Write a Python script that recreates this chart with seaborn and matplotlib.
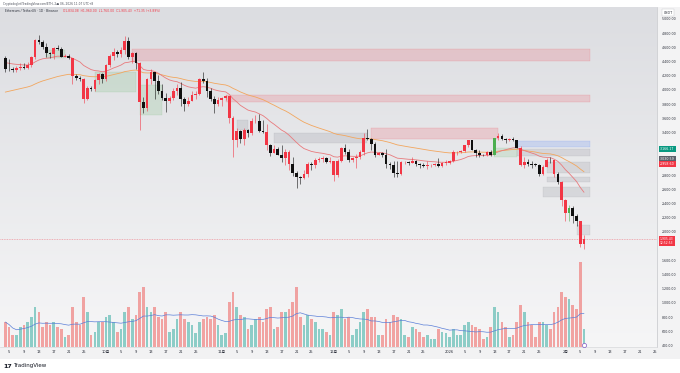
import numpy as np
import pandas as pd
import matplotlib
matplotlib.use("Agg")
import matplotlib.pyplot as plt
import matplotlib.dates as mdates
from matplotlib.patches import Rectangle
from matplotlib.colors import LinearSegmentedColormap
import seaborn as sns

# ETH/USDT Tageskerzen (Binance), 2025-09-04 bis 2026-02-06, Werte aus dem Bild geschaetzt
start_date = "2025-09-04"
first_open = 4450

close = [
    # Sep
    4300, 4290, 4275, 4305, 4320, 4310, 4350, 4460, 4710, 4670, 4605, 4520, 4500, 4590,
    4580, 4470, 4480, 4450, 4200, 4170, 4150, 3870, 4030, 4020, 4140, 4220, 4150,
    # Okt
    4350, 4480, 4540, 4510, 4560, 4690, 4460, 4520, 4380, 3830, 3750, 4160, 4250, 4130,
    3990, 3890, 3840, 3890, 3980, 4030, 3870, 3800, 3850, 3930, 3950, 4160, 4120, 3980,
    3880, 3800, 3860,
    # Nov
    3890, 3910, 3600, 3290, 3420, 3310, 3440, 3400, 3560, 3570, 3420, 3410, 3230, 3110,
    3170, 3090, 3040, 3130, 2960, 2830, 2770, 2760, 2810, 2960, 2950, 3020, 3030, 3040,
    2990, 3000,
    # Dez
    2800, 3000, 3190, 3130, 3020, 3040, 3060, 3120, 3320, 3310, 3240, 3080, 3110, 3080,
    2960, 2950, 2830, 2820, 2980, 2990, 2970, 3000, 2960, 2950, 2930, 2940, 2950, 2960,
    2930, 2970, 2975,
    # Jan
    3000, 3120, 3125, 3140, 3220, 3290, 3160, 3110, 3085, 3080, 3120, 3090, 3320, 3350,
    3310, 3290, 3310, 3295, 3190, 2950, 2980, 2955, 2950, 2945, 2820, 2920, 3020, 3010,
    2820, 2700, 2450,
    # Feb
    2270, 2340, 2230, 2150, 1834.08, 1905.43,
]

high = [
    4485, 4440, 4330, 4340, 4380, 4380, 4390, 4480, 4720, 4770, 4700, 4660, 4540, 4600,
    4640, 4600, 4500, 4500, 4450, 4230, 4200, 4170, 4050, 4060, 4150, 4240, 4240,
    4360, 4500, 4590, 4560, 4600, 4760, 4750, 4540, 4540, 4390, 3900, 4170, 4290, 4250,
    4210, 4090, 3960, 3910, 4030, 4090, 4110, 3900, 3900, 3990, 3980, 4170, 4250, 4170,
    4030, 3920, 3900,
    3900, 3930, 3920, 3630, 3470, 3440, 3470, 3450, 3600, 3650, 3660, 3580, 3520, 3240,
    3220, 3200, 3230, 3170, 3160, 3060, 2860, 2790, 2870, 2990, 2990, 3040, 3060, 3070,
    3050, 3050,
    3000, 3030, 3200, 3240, 3170, 3060, 3100, 3160, 3390, 3450, 3320, 3270, 3130, 3120,
    3170, 2980, 3000, 3000, 3000, 3000, 3000, 3060, 3010, 2970, 2970, 3000, 2960, 2970,
    3040, 2990, 3010,
    3010, 3150, 3140, 3160, 3230, 3300, 3290, 3170, 3150, 3100, 3140, 3160, 3330, 3400,
    3380, 3320, 3330, 3340, 3300, 3210, 3050, 3030, 3000, 2970, 2960, 2950, 3040, 3050,
    3020, 2840, 2720,
    2460, 2380, 2360, 2260, 2160, 1960,
]

low = [
    4260, 4270, 4260, 4260, 4280, 4290, 4290, 4330, 4430, 4650, 4580, 4470, 4450, 4430,
    4560, 4460, 4460, 4440, 4080, 4140, 4120, 3820, 3860, 3990, 3980, 4090, 4100,
    4120, 4330, 4420, 4460, 4460, 4500, 4430, 4380, 4290, 3435, 3680, 3700, 4080, 3880,
    3940, 3860, 3690, 3810, 3860, 3930, 3770, 3710, 3780, 3840, 3880, 3930, 4100, 3900,
    3850, 3680, 3780,
    3780, 3860, 3530, 3060, 3200, 3250, 3230, 3340, 3360, 3540, 3410, 3390, 3160, 3070,
    3110, 3090, 2990, 2950, 2870, 2790, 2620, 2680, 2740, 2770, 2870, 2900, 2990, 2980,
    2970, 2970,
    2720, 2780, 2990, 3100, 2980, 2990, 2900, 3030, 3090, 3300, 3160, 3060, 3080, 3050,
    2900, 2890, 2780, 2780, 2800, 2960, 2940, 2970, 2930, 2900, 2920, 2890, 2920, 2930,
    2910, 2920, 2950,
    2960, 2990, 3080, 3110, 3120, 3200, 3150, 3060, 3060, 3070, 3070, 3070, 3090, 3300,
    3290, 3250, 3280, 3280, 3180, 2930, 2900, 2930, 2900, 2930, 2790, 2800, 2910, 2970,
    2780, 2680, 2370,
    2160, 2160, 2120, 2080, 1790, 1760,
]

# Volumen in Tausend ETH
volume_k = [
    500, 400, 240, 240, 400, 440, 500, 600, 800, 700, 400, 500, 440, 500,
    400, 360, 200, 240, 800, 500, 440, 1000, 700, 240, 300, 500, 500,
    600, 640, 500, 300, 360, 700, 800, 560, 640, 1100, 1200, 800, 700, 800,
    600, 560, 700, 300, 360, 560, 700, 560, 500, 440, 280, 500, 560, 600,
    560, 640, 440,
    240, 280, 900, 1100, 800, 640, 600, 360, 440, 560, 600, 500, 760, 800,
    360, 400, 700, 700, 760, 900, 1200, 600, 440, 640, 560, 500, 360, 360,
    300, 240,
    700, 640, 760, 560, 600, 240, 360, 500, 700, 760, 600, 600, 240, 240,
    560, 500, 640, 600, 560, 240, 200, 400, 360, 300, 200, 240, 160, 160,
    360, 300, 280,
    200, 360, 240, 240, 440, 500, 440, 400, 360, 160, 200, 400, 800, 700,
    500, 400, 200, 240, 500, 840, 700, 500, 440, 200, 500, 500, 440, 360,
    700, 800, 1100,
    1000, 960, 840, 760, 1700, 360,
]

signal_days = ["2026-01-13", "2026-02-02"]
ema_fast_seed = 4395
ema_slow_seed = 3957

# Zonen (Preisbereiche) aus dem Chart
zone_start = ["2025-10-08", "2025-11-02", "2025-11-15", "2025-12-11", "2026-01-19",
              "2026-01-19", "2026-01-27", "2026-01-27", "2026-01-26", "2026-02-04",
              "2025-09-28", "2025-10-10", "2026-01-13", "2025-09-15", "2025-11-05"]
zone_end = ["2026-02-07 12:00", "2026-02-07 12:00", "2025-12-10", "2026-01-14", "2026-02-07 12:00",
            "2026-02-07 12:00", "2026-02-07 12:00", "2026-02-07 12:00", "2026-02-07 12:00", "2026-02-07 12:00",
            "2025-10-09", "2025-10-16", "2026-01-19", "2025-09-20", "2025-11-08"]
zone_low = [4410, 3835, 3260, 3310, 3197, 3070, 2831, 2704, 2493, 1960, 3972, 3650, 3056, 4450, 3440]
zone_high = [4580, 3930, 3395, 3465, 3282, 3169, 2986, 2775, 2634, 2100, 4254, 4070, 3183, 4560, 3580]
zone_kind = ["pink", "pink", "gray", "pink", "blue", "gray", "gray", "gray", "gray", "gray",
             "green", "green", "green", "green", "gray"]

tag_values = [3166.17, 3030.59, 2958.60]
tag_kind = ["green", "gray", "red"]

# --- Aufbereitung ---
dates = pd.date_range(start_date, periods=len(close), freq="D")
x = mdates.date2num(dates)
close = np.array(close, dtype=float)
open_ = np.concatenate([[first_open], close[:-1]])
high = np.maximum(np.array(high, dtype=float), np.maximum(open_, close))
low = np.minimum(np.array(low, dtype=float), np.minimum(open_, close))
volume = np.array(volume_k, dtype=float)

RED = "#f23645"
BLACK = "#101010"
GREEN = "#4caf50"
change = (close - open_) / open_
candle_colors = np.where((close >= open_) | (change < -0.05), RED, BLACK).astype(object)
for d in signal_days:
    candle_colors[dates.get_loc(pd.Timestamp(d))] = GREEN
vol_colors = [(38/255, 166/255, 154/255, 0.5) if c >= o else (239/255, 83/255, 80/255, 0.5)
              for o, c in zip(open_, close)]


def ema(values, span, seed):
    alpha = 2 / (span + 1)
    out, prev = [], seed
    for v in values:
        prev = alpha * v + (1 - alpha) * prev
        out.append(prev)
    return np.array(out)


ema_fast = ema(close, 20, ema_fast_seed)
ema_slow = ema(close, 50, ema_slow_seed)
vol_ma = pd.Series(volume).rolling(20, min_periods=1).mean().values

# --- Figur ---
sns.set_style("white")
plt.rcParams["font.family"] = ["DejaVu Sans", "Noto Sans CJK SC"]

W, H = 680, 373
fig = plt.figure(figsize=(W / 100, H / 100), dpi=100, facecolor="white")


def fx(px):
    return px / W


def fy(py):
    return 1 - py / H


ax = fig.add_axes([0, fy(347), fx(657), (347 - 7) / H])
axv = ax.twinx()

# Hintergruende
fig.patches.append(Rectangle((fx(657), fy(347)), 1 - fx(657), (347 - 7) / H,
                             transform=fig.transFigure, fc="#f3f3f4", ec="none", zorder=-5))
fig.patches.append(Rectangle((0, fy(359)), 1, 12 / H, transform=fig.transFigure,
                             fc="#f2f2f3", ec="none", zorder=-5))
bg = LinearSegmentedColormap.from_list("bg", ["#f6f6f7", "#dcdde1"])
ax.imshow(np.linspace(0, 1, 256).reshape(-1, 1), cmap=bg, origin="lower", aspect="auto",
          extent=[0, 1, 0, 1], transform=ax.transAxes, zorder=0)

# Zonen
zone_fc = {"pink": (242/255, 54/255, 69/255, 0.16), "gray": (120/255, 123/255, 134/255, 0.17),
           "blue": (41/255, 98/255, 255/255, 0.15), "green": (76/255, 175/255, 80/255, 0.14)}
zone_ec = {"pink": (242/255, 54/255, 69/255, 0.3), "gray": (120/255, 123/255, 134/255, 0.25),
           "blue": (41/255, 98/255, 255/255, 0.25), "green": (76/255, 175/255, 80/255, 0.25)}
for s, e, lo, hi, k in zip(zone_start, zone_end, zone_low, zone_high, zone_kind):
    x0 = mdates.date2num(pd.Timestamp(s))
    x1 = mdates.date2num(pd.Timestamp(e))
    ax.add_patch(Rectangle((x0, lo), x1 - x0, hi - lo, fc=zone_fc[k], ec=zone_ec[k],
                           lw=0.3, zorder=1))

# gleitende Durchschnitte
sns.lineplot(x=x, y=ema_slow, ax=ax, color="#f2a65e", linewidth=0.6, zorder=2)
sns.lineplot(x=x, y=ema_fast, ax=ax, color="#e87a7d", linewidth=0.6, zorder=2)

# Kerzen
ax.vlines(x, low, high, colors=list(candle_colors), linewidth=0.4, zorder=3)
body_low = np.minimum(open_, close)
body_h = np.maximum(np.abs(close - open_), 10)
ax.bar(x, body_h, bottom=body_low, width=0.72, color=list(candle_colors), linewidth=0, zorder=4)

# aktueller Kurs
ax.axhline(close[-1], color=RED, lw=0.4, ls=(0, (1.5, 1.5)), alpha=0.7, zorder=2)

# Volumen
axv.bar(x, volume, width=0.72, color=vol_colors, linewidth=0, zorder=1)
sns.lineplot(x=x, y=vol_ma, ax=axv, color="#5b7fd8", linewidth=0.5, zorder=2)
axv.plot(x[-1], 40, marker="o", ms=3, mfc="white", mec="#7e57c2", mew=0.5, zorder=3)
axv.set_ylim(0, 340 * 20)
axv.axis("off")

# Achsen
ax.set_xlim(mdates.date2num(dates[0]) - 1.41, mdates.date2num(dates[0]) + 174.55)
ax.set_ylim(380, 5169)

# Labels, die im Original von den Preis-Tags verdeckt sind, weglassen
yt = [v for v in range(400, 5001, 200) if v not in (3200, 3000, 1800)]
ax.set_yticks(yt)
ax.set_yticklabels([f"{v:,.2f}" for v in yt])
ax.yaxis.tick_right()
ax.tick_params(axis="y", length=0, pad=3.6, labelsize=2.3, labelcolor="#2a2e39")

xmin, xmax = ax.get_xlim()
tick_pos, tick_lab = [], []
for d in pd.date_range("2025-09-01", "2026-02-28", freq="D"):
    if d.day == 1:
        lab = str(d.year) if d.month == 1 else f"{d.month}月"
    elif d.day in (5, 9, 13, 17, 21, 25):
        lab = str(d.day)
    else:
        continue
    p = mdates.date2num(d)
    if xmin < p < xmax:
        tick_pos.append(p)
        tick_lab.append(lab)
ax.set_xticks(tick_pos)
ax.set_xticklabels(tick_lab)
ax.tick_params(axis="x", length=0, pad=2.3, labelsize=2.6, labelcolor="#2a2e39")

for side in ["top", "left"]:
    ax.spines[side].set_visible(False)
ax.spines["right"].set_color("#c5c6ca")
ax.spines["right"].set_linewidth(0.5)
ax.spines["bottom"].set_color("#d8d9dc")
ax.spines["bottom"].set_linewidth(0.5)
ax.grid(False)

# Preis-Labels an der rechten Achse
tag_bg = {"green": "#089981", "gray": "#5d606b", "red": RED}
for v, k in zip(tag_values, tag_kind):
    ax.annotate(f"{v:,.2f}", xy=(1.0, v), xycoords=("axes fraction", "data"), xytext=(2.2, 0),
                textcoords="offset points", ha="left", va="center", fontsize=2.3, color="white",
                bbox=dict(boxstyle="square,pad=0.3", fc=tag_bg[k], ec="none"),
                annotation_clip=False, zorder=10)
ax.annotate(f"{close[-1]:,.2f}\n12:52:53", xy=(1.0, close[-1]), xycoords=("axes fraction", "data"),
            xytext=(2.2, -1.5), textcoords="offset points", ha="left", va="center", fontsize=2.2,
            color="white", linespacing=1.05,
            bbox=dict(boxstyle="square,pad=0.3", fc=RED, ec="none"), annotation_clip=False, zorder=10)
fig.text(fx(668), fy(12.5), "USDT", fontsize=2.3, ha="center", va="center", color="#2a2e39",
         bbox=dict(boxstyle="square,pad=0.5", fc="white", ec="#c5c6ca", lw=0.3))

# Kopfzeile und Legende
fig.text(fx(3), fy(3.5), "Cryptodoglet/TradingView.com/ETH, 2月 06, 2026 11:07 UTC+8",
         fontsize=2.1, va="center", color="#4a4e59")
fig.text(fx(5), fy(11.5), "Ethereum / TetherUS · 1D · Binance", fontsize=2.2, va="center",
         color="#2a2e39")
chg = close[-1] - close[-2]
fig.text(fx(63), fy(11.5),
         f"O{open_[-1]:,.2f}  H{high[-1]:,.2f}  L{low[-1]:,.2f}  C{close[-1]:,.2f}  "
         f"{chg:+,.2f} ({chg / close[-2] * 100:+.2f}%)",
         fontsize=2.2, va="center", color=RED)

# Logo unten links
fig.text(fx(3), fy(366), "17", fontsize=4.6, fontweight="bold", va="center", color="#131722")
fig.text(fx(13), fy(366), "TradingView", fontsize=4.0, va="center", color="#131722")

fig.savefig("out.png", dpi=100, facecolor="white")
